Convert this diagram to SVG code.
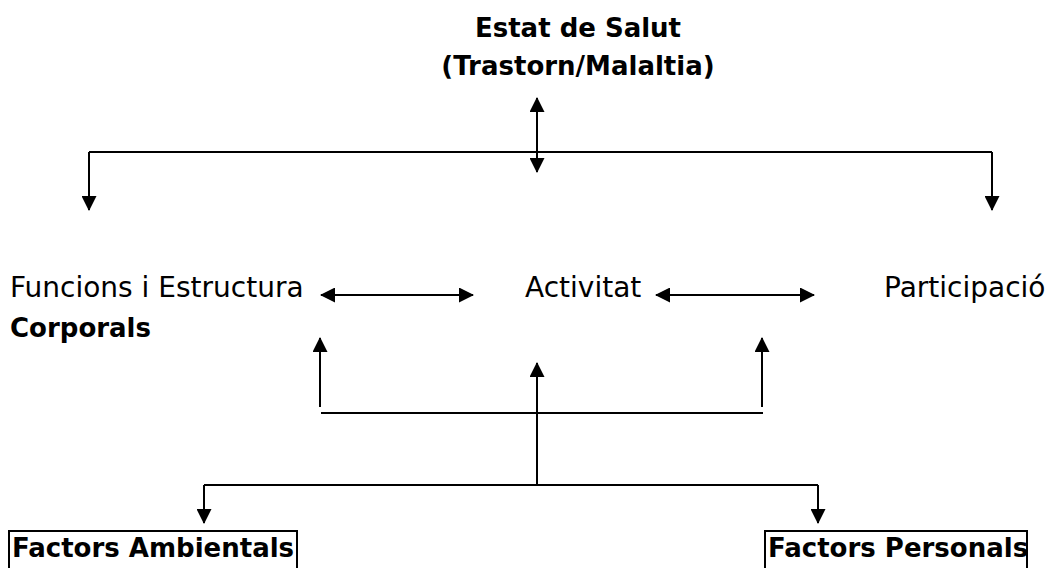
<svg xmlns="http://www.w3.org/2000/svg" width="1052" height="568" viewBox="0 0 1052 568">
<style>
  .t { font-family: "DejaVu Sans", "Liberation Sans", sans-serif; fill: #000; }
  .r { font-size: 28px; }
  .b { font-size: 26px; font-weight: bold; }
  .c { stroke: #000; stroke-width: 2; fill: none; }
  .box { stroke: #000; stroke-width: 2; fill: #fff; }
</style>
<defs>
  <marker id="ah" markerUnits="userSpaceOnUse" markerWidth="15" markerHeight="15" viewBox="0 0 15 15" refX="14" refY="7.5" orient="auto-start-reverse">
    <path d="M0,0 L15,7.5 L0,15 z" fill="#000"/>
  </marker>
</defs>
<rect width="1052" height="568" fill="#fff"/>
<g id="connectors">
  <path class="c" d="M537,98 V172" marker-start="url(#ah)" marker-end="url(#ah)"/>
  <path class="c" d="M89,152 H992"/>
  <path class="c" d="M89,152 V210" marker-end="url(#ah)"/>
  <path class="c" d="M992,152 V210" marker-end="url(#ah)"/>
  <path class="c" d="M321,295 H473" marker-start="url(#ah)" marker-end="url(#ah)"/>
  <path class="c" d="M656,295 H814" marker-start="url(#ah)" marker-end="url(#ah)"/>
  <path class="c" d="M320,407 V338" marker-end="url(#ah)"/>
  <path class="c" d="M762,407 V338" marker-end="url(#ah)"/>
  <path class="c" d="M321,413 H763"/>
  <path class="c" d="M537,484 V363" marker-end="url(#ah)"/>
  <path class="c" d="M204,485 H818"/>
  <path class="c" d="M204,485 V523" marker-end="url(#ah)"/>
  <path class="c" d="M818,485 V523" marker-end="url(#ah)"/>
</g>
<g id="estat-salut">
  <text class="t b" x="578" y="37" text-anchor="middle">Estat de Salut</text>
  <text class="t b" x="578" y="75" text-anchor="middle">(Trastorn/Malaltia)</text>
</g>
<g id="funcions">
  <text class="t r" x="10" y="297">Funcions i Estructura</text>
  <text class="t b" x="10" y="337">Corporals</text>
</g>
<g id="activitat">
  <text class="t r" x="525" y="297">Activitat</text>
</g>
<g id="participacio">
  <text class="t r" x="884" y="297">Participació</text>
</g>
<g id="factors-ambientals">
  <rect class="box" x="9" y="531" width="288" height="40"/>
  <text class="t b" x="12" y="557">Factors Ambientals</text>
</g>
<g id="factors-personals">
  <rect class="box" x="765" y="531" width="262" height="40"/>
  <text class="t b" x="768" y="557">Factors Personals</text>
</g>
</svg>
